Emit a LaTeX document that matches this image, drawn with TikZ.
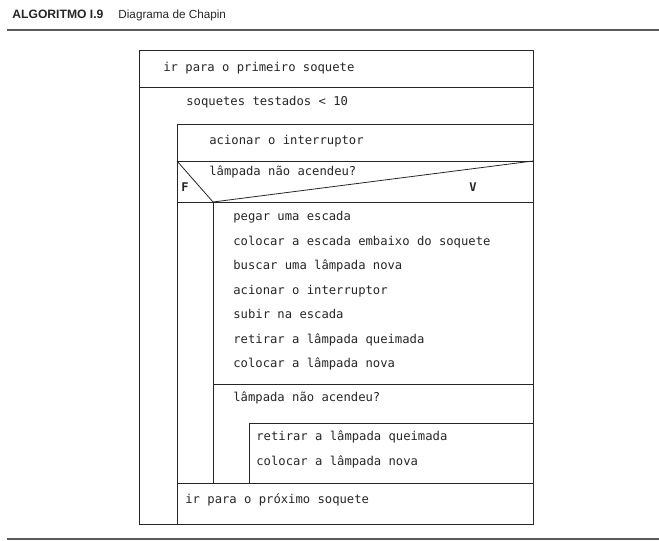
\documentclass[tikz,border=0pt]{standalone}
\usepackage{fontspec}
\setmainfont{Liberation Sans}
\setsansfont{Liberation Sans}
\setmonofont{DejaVu Sans Mono}
\usepackage{tikz}

\definecolor{ink}{HTML}{262626}

\begin{document}
\begin{tikzpicture}[x=0.75pt, y=-0.75pt, line width=0.6pt, draw=ink,
	every node/.style={inner sep=0pt, anchor=mid west, text=ink, font=\ttfamily\fontsize{9.15}{11}\selectfont},
	hdr/.style={font=\sffamily\fontsize{8.8}{10}\selectfont},
	flag/.style={anchor=center, font=\ttfamily\bfseries\fontsize{9}{11}\selectfont}]
	\useasboundingbox (0,0) rectangle (659,541);
	% title and rules
	\node[hdr, font=\sffamily\bfseries\fontsize{9.1}{10}\selectfont] (alg) at (12,15) {ALGORITMO I.9};
	\node[hdr] (title) at (118,15) {Diagrama de Chapin};
	\draw[gray!70!black, line width=1pt] (7,30) -- (659,30);
	\draw[gray!70!black, line width=1pt] (7,539) -- (659,539);
	% outer frame and loop
	\draw (139,50) rectangle (533,524);
	\draw (139,87) -- (533,87);
	\draw (177,124) -- (533,124);
	\draw (177,124) -- (177,524);
	\draw (177,161) -- (533,161);
	% decision
	\coordinate (apex) at (213,202);
	\draw (177,161) -- (apex) -- (533,161);
	\draw (177,202) -- (533,202);
	\draw (apex) -- (213,483);
	\draw (213,384) -- (533,384);
	\draw (249,423) -- (533,423);
	\draw (249,423) -- (249,483);
	\draw (177,483) -- (533,483);
	% texts
	\node (first) at (163,68) {ir para o primeiro soquete};
	\node (loop) at (186,102) {soquetes testados < 10};
	\node (switch) at (209,141) {acionar o interruptor};
	\node (test) at (209,172) {lâmpada não acendeu?};
	\node[flag] (f) at (185,187) {F};
	\node[flag] (v) at (473,187) {V};
	\foreach \t [count=\i from 0] in {pegar uma escada, colocar a escada embaixo do soquete, buscar uma lâmpada nova, acionar o interruptor, subir na escada, retirar a lâmpada queimada, colocar a lâmpada nova}
		\node (step\i) at (233,217+24.5*\i) {\t};
	\node (test2) at (233,398) {lâmpada não acendeu?};
	\node (redo1) at (256,437) {retirar a lâmpada queimada};
	\node (redo2) at (256,462) {colocar a lâmpada nova};
	\node (next) at (185,500) {ir para o próximo soquete};
\end{tikzpicture}
\end{document}
